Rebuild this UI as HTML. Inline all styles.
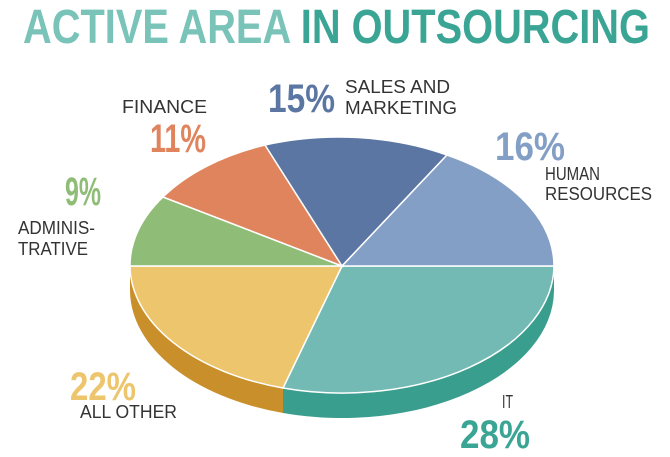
<!DOCTYPE html>
<html><head><meta charset="utf-8"><style>
html,body{margin:0;padding:0;background:#fff;}
svg{display:block;}
text{font-family:"Liberation Sans",sans-serif;}
</style></head><body>
<svg width="670" height="457" viewBox="0 0 670 457">
<text x="23" y="43" font-size="48" font-weight="bold" textLength="627" lengthAdjust="spacingAndGlyphs"><tspan fill="#79c3b8">ACTIVE AREA </tspan><tspan fill="#3aa595">IN OUTSOURCING</tspan></text>

<path d="M130,266 A212,128 0 0 0 283,388 L283,413 A212,128 0 0 1 130,291 Z" fill="#c98f2a"/>
<path d="M283,388 A212,128 0 0 0 554,266 L554,291 A212,128 0 0 1 283,413 Z" fill="#3a9e8e"/>

<g stroke="#fff" stroke-width="1.5">
<path d="M342,266 L554,266 A212,128 0 0 1 283,388 Z" fill="#72bab3"/>
<path d="M342,266 L283,388 A212,128 0 0 1 130,266 Z" fill="#edc56c"/>
<path d="M342,266 L130,266 A212,128 0 0 1 163,197 Z" fill="#8fbd77"/>
<path d="M342,266 L163,197 A212,128 0 0 1 265,145 Z" fill="#e0845e"/>
<path d="M342,266 L265,145 A212,128 0 0 1 447,155 Z" fill="#5c76a3"/>
<path d="M342,266 L447,155 A212,128 0 0 1 554,266 Z" fill="#849fc6"/>
</g>

<g font-weight="bold" font-size="40" lengthAdjust="spacingAndGlyphs">
<text x="268" y="112" fill="#5c76a3" textLength="67" lengthAdjust="spacingAndGlyphs">15%</text>
<text x="495" y="160" fill="#849fc6" textLength="70" lengthAdjust="spacingAndGlyphs">16%</text>
<text x="150" y="152" fill="#e0845e" textLength="56" lengthAdjust="spacingAndGlyphs">11%</text>
<text x="65" y="205" fill="#8fbd77" textLength="36" lengthAdjust="spacingAndGlyphs">9%</text>
<text x="70" y="400" fill="#edc56c" textLength="66" lengthAdjust="spacingAndGlyphs">22%</text>
<text x="460" y="448" fill="#3aa595" textLength="70" lengthAdjust="spacingAndGlyphs">28%</text>
</g>
<g font-size="18" fill="#333">
<text x="345" y="93" textLength="105" lengthAdjust="spacingAndGlyphs">SALES AND</text>
<text x="345" y="114" textLength="112" lengthAdjust="spacingAndGlyphs">MARKETING</text>
<text x="545" y="180" textLength="55" lengthAdjust="spacingAndGlyphs">HUMAN</text>
<text x="545" y="200" textLength="107" lengthAdjust="spacingAndGlyphs">RESOURCES</text>
<text x="122" y="113" textLength="85" lengthAdjust="spacingAndGlyphs">FINANCE</text>
<text x="18" y="234" textLength="77" lengthAdjust="spacingAndGlyphs">ADMINIS-</text>
<text x="18" y="255" textLength="70" lengthAdjust="spacingAndGlyphs">TRATIVE</text>
<text x="80" y="418" textLength="97" lengthAdjust="spacingAndGlyphs">ALL OTHER</text>
<text x="502" y="408" textLength="11" lengthAdjust="spacingAndGlyphs">IT</text>
</g>
</svg>
</body></html>
